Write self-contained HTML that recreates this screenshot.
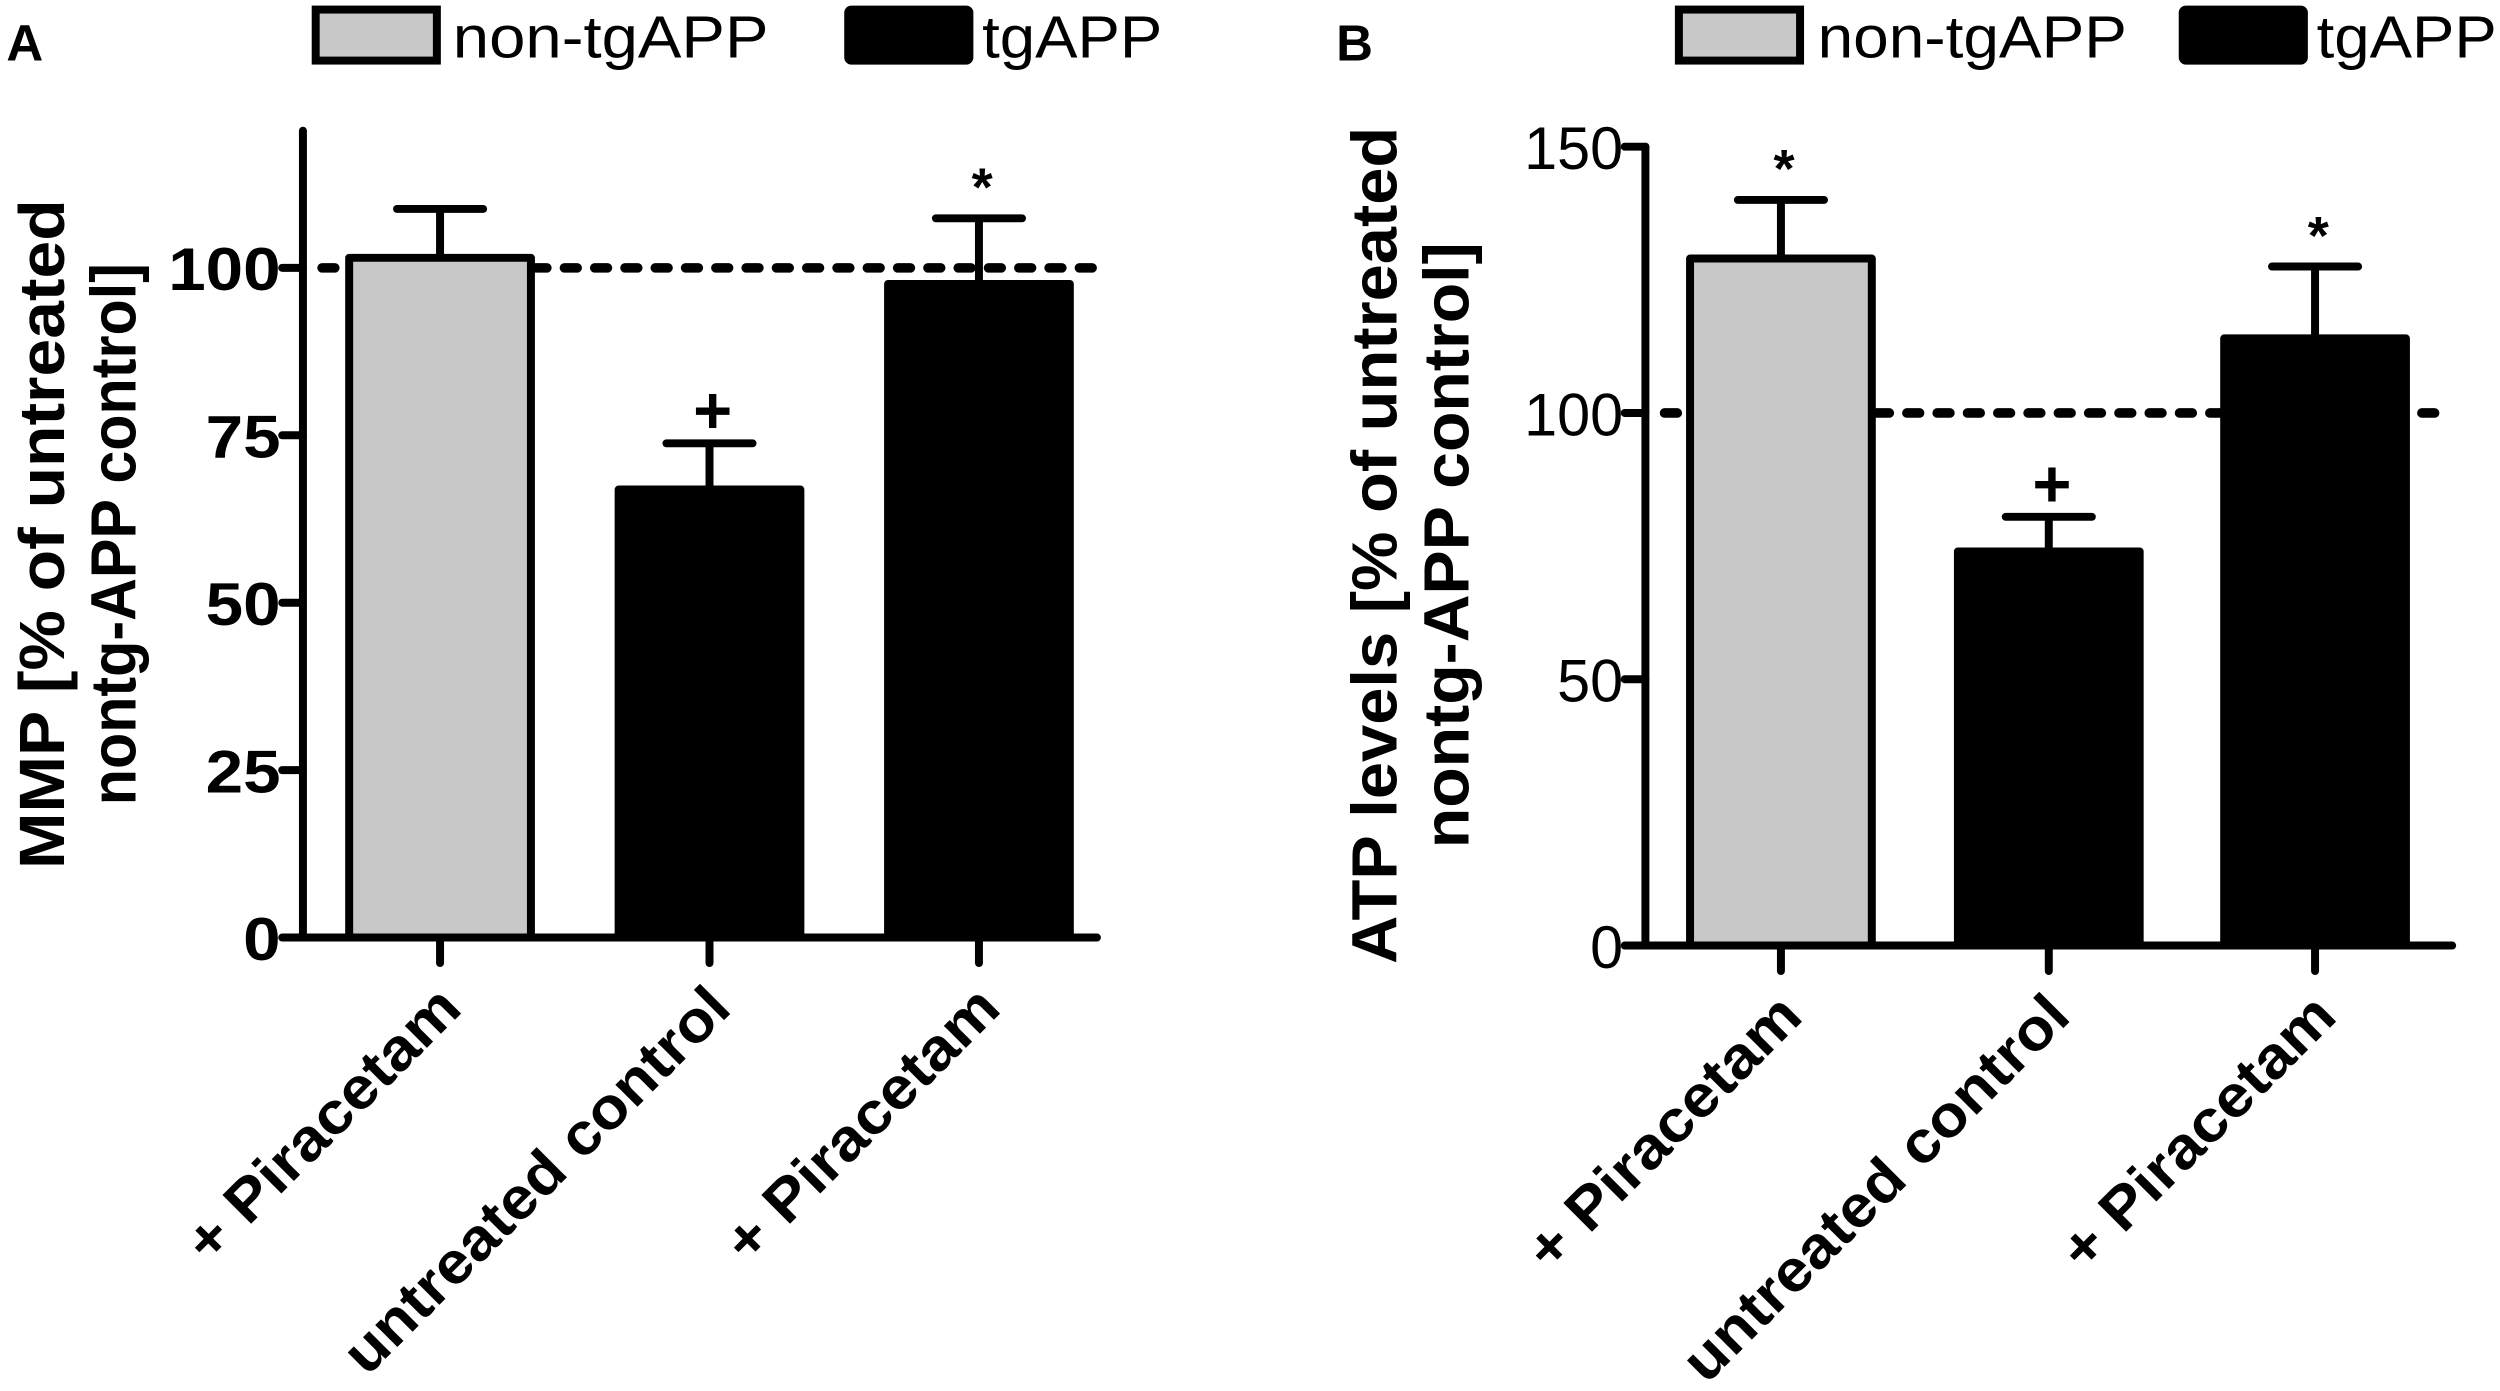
<!DOCTYPE html>
<html><head><meta charset="utf-8"><style>
html,body{margin:0;padding:0;background:#fff}
svg{display:block}
text{font-family:"Liberation Sans",Arial,sans-serif;fill:#000}
</style></head><body>
<svg id="fig" width="2500" height="1391" viewBox="0 0 1568 872.4" preserveAspectRatio="none" xmlns="http://www.w3.org/2000/svg"></svg>
<script>
const categories = ["+ Piracetam", "untreated control", "+ Piracetam"];
const groupFill = ["#c8c8c8", "#000", "#000"];
const mmpValues = [101.5, 66.9, 97.6];
const mmpErrors = [7.3, 6.9, 9.8];
const mmpMarks = ["", "+", "*"];
const mmpTicks = [0, 25, 50, 75, 100];
const atpValues = [129, 74, 114];
const atpErrors = [11, 6.5, 13.5];
const atpMarks = ["*", "+", "*"];
const atpTicks = [0, 50, 100, 150];

const NS = "http://www.w3.org/2000/svg";
const svg = document.getElementById("fig");
function mk(tag, attrs, parent, txt) {
  const e = document.createElementNS(NS, tag);
  for (const k in attrs) e.setAttribute(k, attrs[k]);
  if (txt !== undefined) e.textContent = txt;
  (parent || svg).appendChild(e);
  return e;
}

function panel(cfg) {
  const g = mk("g", {});
  
  
  const y = v => cfg.y0 - v * cfg.scale;
  const lt = mk("text", {x: cfg.letterX, y: 38, "font-size": 32, "font-weight": "bold"}, g, cfg.letter);
  
  
  const l1 = mk("rect", {x: cfg.legX, y: 6, width: 76, height: 32, fill: "#c8c8c8", stroke: "#000", "stroke-width": 5}, g);
  
  
  const t1 = mk("text", {x: cfg.legT1, y: 36, "font-size": 37, textLength: cfg.legT1W, lengthAdjust: "spacingAndGlyphs"}, g, "non-tgAPP");
  
  
  const l2 = mk("rect", {x: cfg.legX2, y: 6, width: 76, height: 32, fill: "#000", stroke: "#000", "stroke-width": 5, rx: 2}, g);
  
  
  const t2 = mk("text", {x: cfg.legX2 + 84, y: 36, "font-size": 37, textLength: 113, lengthAdjust: "spacingAndGlyphs"}, g, "tgAPP");
  
  
  const d = mk("line", {x1: cfg.axX + 12, x2: cfg.xEnd, y1: y(100), y2: y(100), stroke: "#000", "stroke-width": 6, "stroke-dasharray": "8 11", "stroke-linecap": "round"}, g);
  
  
  cfg.values.forEach((v, i) => {
    const cx = cfg.cx[i];
    const e = mk("line", {x1: cx, x2: cx, y1: y(v), y2: y(v + cfg.errors[i]), stroke: "#000", "stroke-width": 5}, g);
    
    
    const c = mk("line", {x1: cx - 27, x2: cx + 27, y1: y(v + cfg.errors[i]), y2: y(v + cfg.errors[i]), stroke: "#000", "stroke-width": 5, "stroke-linecap": "round"}, g);
    
    
    const b = mk("rect", {x: cx - cfg.bw / 2, y: y(v), width: cfg.bw, height: y(0) - y(v), fill: groupFill[i], stroke: "#000", "stroke-width": 5, "stroke-linejoin": "round"}, g);
    
    
    if (cfg.marks[i]) {
      const plus = cfg.marks[i] === "+";
      const m = mk("text", {x: cx + 2, y: y(v + cfg.errors[i]) - (plus ? 6 : 8), "font-size": plus ? 42 : 34, "font-weight": "bold", "text-anchor": "middle"}, g, cfg.marks[i]);
      
      
    }
    const tk = mk("line", {x1: cx, x2: cx, y1: y(0), y2: y(0) + 16, stroke: "#000", "stroke-width": 5, "stroke-linecap": "round"}, g);
    
    
    const lx = cx + 15, ly = y(0) + 46;
    const len = categories[i].length > 12 ? 325 : 226;
    const cl = mk("text", {x: lx, y: ly, "font-size": 37, "font-weight": "bold", "text-anchor": "end", textLength: len, lengthAdjust: "spacingAndGlyphs", transform: "rotate(-45 " + lx + " " + ly + ")"}, g, categories[i]);
    
    
  });
  const ya = mk("line", {x1: cfg.axX, x2: cfg.axX, y1: cfg.axTop, y2: y(0), stroke: "#000", "stroke-width": 5, "stroke-linecap": "round"}, g);
  
  
  const xa = mk("line", {x1: cfg.axX - 12, x2: cfg.xEnd, y1: y(0), y2: y(0), stroke: "#000", "stroke-width": 5, "stroke-linecap": "round"}, g);
  
  
  cfg.ticks.forEach(t => {
    const tl = mk("line", {x1: cfg.axX - 13, x2: cfg.axX, y1: y(t), y2: y(t), stroke: "#000", "stroke-width": 5, "stroke-linecap": "round"}, g);
    
    
    const s = String(t);
    const tt = mk("text", {x: cfg.axX - 14, y: y(t) + 14, "font-size": 38, "font-weight": cfg.tickWeight, "text-anchor": "end", textLength: cfg.digitW * s.length, lengthAdjust: "spacingAndGlyphs"}, g, s);
    
    
  });
  const yt = mk("text", {x: 0, y: 0, "font-size": 40, "font-weight": "bold", "text-anchor": "middle", transform: "translate(" + cfg.titleX + " " + cfg.titleY + ") rotate(-90)"}, g);
  
  
  mk("tspan", {x: 0, dy: 0, textLength: cfg.t1W, lengthAdjust: "spacingAndGlyphs"}, yt, cfg.title1);
  mk("tspan", {x: 0, dy: 45, textLength: cfg.t2W, lengthAdjust: "spacingAndGlyphs"}, yt, cfg.title2);
}

panel({name: "panel-a-mmp", letter: "A", letterX: 4, legX: 198, legT1: 284, legT1W: 198, legX2: 532,
  axX: 190, axTop: 82, y0: 588, scale: 4.2, xEnd: 688, bw: 114,
  cx: [276, 445, 614], values: mmpValues, errors: mmpErrors, marks: mmpMarks,
  ticks: mmpTicks, tickWeight: "bold", digitW: 23.5,
  title1: "MMP [% of untreated", title2: "nontg-APP control]", titleX: 40, titleY: 335, t1W: 420, t2W: 340});
panel({name: "panel-b-atp", letter: "B", letterX: 838, legX: 1053, legT1: 1140, legT1W: 194, legX2: 1369,
  axX: 1032, axTop: 92, y0: 593, scale: 3.34, xEnd: 1538, bw: 114,
  cx: [1117, 1285, 1452], values: atpValues, errors: atpErrors, marks: atpMarks,
  ticks: atpTicks, tickWeight: "normal", digitW: 20.7,
  title1: "ATP levels [% of untreated", title2: "nontg-APP control]", titleX: 876, titleY: 342, t1W: 525, t2W: 380});
</script>
</body></html>
